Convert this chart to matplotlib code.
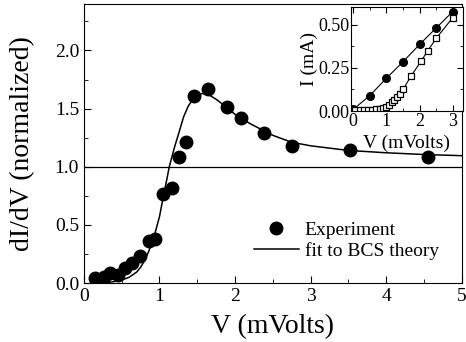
import matplotlib
matplotlib.use("Agg")
import matplotlib.pyplot as plt
from matplotlib.ticker import MultipleLocator, FormatStrFormatter

plt.rcParams['font.family'] = ['Liberation Serif', 'DejaVu Serif']

# main panel: measured dI/dV
v_exp = [0.15, 0.26, 0.35, 0.45, 0.55, 0.64, 0.745, 0.855, 0.94, 1.05, 1.16, 1.256, 1.35,
         1.455, 1.645, 1.89, 2.08, 2.385, 2.76, 3.52, 4.55]
g_exp = [0.04, 0.05, 0.09, 0.07, 0.13, 0.175, 0.23, 0.36, 0.375, 0.765, 0.815, 1.08, 1.21,
         1.61, 1.665, 1.515, 1.42, 1.29, 1.18, 1.14, 1.08]

# BCS fit curve
v_fit = [0.2, 0.3, 0.4, 0.5, 0.6, 0.7, 0.75, 0.8, 0.85, 0.9, 0.95, 1.0, 1.05, 1.1, 1.13, 1.2,
         1.27, 1.32, 1.38, 1.45, 1.5, 1.57, 1.65, 1.75, 1.85, 2.0, 2.2, 2.5, 2.75, 3.0, 3.5,
         4.0, 4.5, 5.0]
g_fit = [0.0, 0.004, 0.012, 0.025, 0.05, 0.095, 0.135, 0.19, 0.26, 0.345, 0.45, 0.57, 0.74, 0.9,
         1.0, 1.17, 1.32, 1.43, 1.52, 1.59, 1.615, 1.63, 1.62, 1.58, 1.53, 1.45, 1.37, 1.27,
         1.21, 1.18, 1.14, 1.12, 1.105, 1.095]

# inset: I-V curves
v_norm = [0.0, 0.5, 1.0, 1.5, 2.0, 2.5, 3.0]
i_norm = [0.01, 0.09, 0.19, 0.285, 0.385, 0.48, 0.575]
v_sc = [0.05, 0.2, 0.32, 0.44, 0.56, 0.68, 0.8, 0.9, 1.0, 1.08, 1.16, 1.24, 1.32, 1.42, 1.5,
        1.75, 2.05, 2.25, 2.5, 3.0]
i_sc = [0.005, 0.005, 0.005, 0.006, 0.008, 0.01, 0.013, 0.018, 0.026, 0.037, 0.05, 0.065,
        0.083, 0.1, 0.125, 0.205, 0.29, 0.35, 0.42, 0.54]

fig = plt.figure(figsize=(4.66, 3.42), dpi=100)
ax = fig.add_axes([0.180, 0.1725, 0.811, 0.816])

ax.axhline(1.0, color='black', lw=0.9)
ax.plot(v_fit, g_fit, color='black', lw=1.1, label='fit to BCS theory')
ax.plot(v_exp, g_exp, 'o', color='black', ms=9, ls='none', label='Experiment')

ax.set_xlim(0, 5)
ax.set_ylim(0, 2.4)
ax.xaxis.set_major_locator(MultipleLocator(1))
ax.xaxis.set_minor_locator(MultipleLocator(0.5))
ax.yaxis.set_major_locator(MultipleLocator(0.5))
ax.yaxis.set_minor_locator(MultipleLocator(0.25))
ax.yaxis.set_major_formatter(FormatStrFormatter('%.1f'))
ax.tick_params(which='both', direction='in', labelsize=14)
ax.tick_params(which='major', length=5)
ax.tick_params(which='minor', length=3)
ax.set_xlabel('V (mVolts)', fontsize=20, labelpad=7)
ax.set_ylabel('dI/dV (normalized)', fontsize=20, labelpad=14)

h, l = ax.get_legend_handles_labels()
ax.legend(h[::-1], l[::-1], loc='lower right', bbox_to_anchor=(0.985, 0.02), frameon=False,
          fontsize=14, handlelength=2.3, handletextpad=0.3, labelspacing=0.15)

# inset
ins = fig.add_axes([0.753, 0.675, 0.240, 0.304])
ins.plot(v_norm, i_norm, '-o', color='black', lw=0.8, ms=5.5)
ins.plot(v_sc, i_sc, '-s', color='black', lw=0.8, ms=5, mfc='white', mew=0.9)
ins.set_xlim(-0.07, 3.3)
ins.set_ylim(0, 0.6)
ins.xaxis.set_major_locator(MultipleLocator(1))
ins.xaxis.set_minor_locator(MultipleLocator(0.5))
ins.yaxis.set_major_locator(MultipleLocator(0.25))
ins.yaxis.set_minor_locator(MultipleLocator(0.125))
ins.yaxis.set_major_formatter(FormatStrFormatter('%.2f'))
ins.tick_params(which='both', direction='in', labelsize=13, top=True, right=True, pad=1)
ins.tick_params(which='major', length=4)
ins.tick_params(which='minor', length=2)
ins.set_xlabel('V (mVolts)', fontsize=14, labelpad=4)
ins.set_ylabel('I (mA)', fontsize=14, labelpad=0)

fig.savefig('out.png', dpi=100)
